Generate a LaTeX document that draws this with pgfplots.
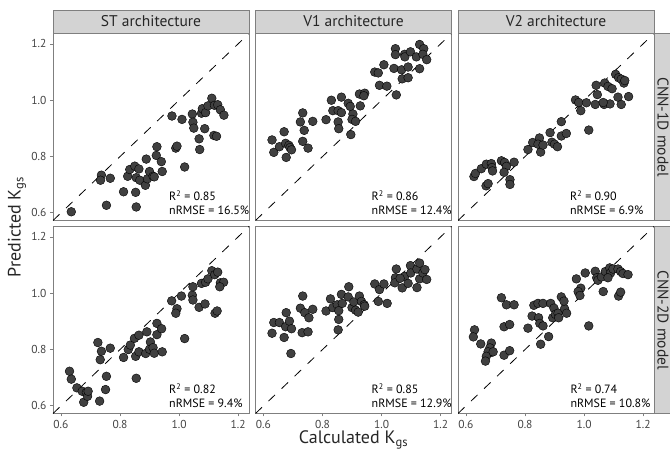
\documentclass[border=0pt]{standalone}
\usepackage{fontspec}
\setmainfont{PT Sans}
\usepackage{pgfplots}
\pgfplotsset{compat=1.18}
\definecolor{ptfill}{HTML}{404040}
\definecolor{frame}{HTML}{7F7F7F}
\definecolor{strip}{HTML}{D3D3D3}
\definecolor{ticktxt}{HTML}{444444}

\pgfplotsset{panel/.style={
  scale only axis, width=196pt, height=187pt, anchor=south west,
  xmin=0.573, xmax=1.237, ymin=0.573, ymax=1.237,
  axis line style={frame, line width=0.8pt},
  tick align=outside, major tick length=3pt, tick style={frame, line width=0.8pt},
  xtick pos=bottom, ytick pos=left,
  xtick={0.6,0.8,1.0,1.2}, ytick={0.6,0.8,1.0,1.2},
  tick label style={font=\fontsize{11.5}{12}\selectfont, text=ticktxt},
  /pgf/number format/fixed, /pgf/number format/fixed zerofill,
  /pgf/number format/precision=1, /pgf/number format/assume math mode=true,
  clip=true,
}}
\pgfplotsset{pts/.style={only marks, mark=*, mark size=4.4pt,
  mark options={fill=ptfill, draw=black, line width=0.4pt}}}
\newcommand{\oneone}{\addplot[black, line width=0.8pt, dash pattern=on 9pt off 9pt] coordinates {(0.573,0.573) (1.237,1.237)};}
\newcommand{\stats}[3]{%
  \node[anchor=west, font=\fontsize{12}{14}\selectfont, inner sep=0pt] at (rel axis cs:#1,0.131) {R\textsuperscript{2} = #2};
  \node[anchor=west, font=\fontsize{12}{14}\selectfont, inner sep=0pt] at (rel axis cs:#1,0.056) {nRMSE = #3};}

\begin{document}
\begin{tikzpicture}[x=1pt, y=1pt]
\useasboundingbox (0,0) rectangle (670,453);

% ---- row 1: CNN-1D model ----
\begin{axis}[panel, at={(53pt,232.5pt)}, xtick=\empty]
\oneone
\addplot[pts] table {
x y
0.635 0.604
0.754 0.627
0.855 0.621
0.812 0.675
0.853 0.673
0.737 0.734
0.734 0.716
0.767 0.723
0.826 0.730
0.833 0.754
0.850 0.766
0.864 0.756
0.855 0.725
0.867 0.716
0.886 0.698
0.893 0.721
0.900 0.747
0.912 0.730
0.916 0.728
0.889 0.791
0.923 0.804
0.940 0.782
0.925 0.835
0.943 0.747
0.989 0.830
0.993 0.837
1.019 0.763
0.976 0.944
1.010 0.932
1.045 0.951
1.047 0.922
1.050 0.901
1.070 0.825
1.068 0.863
1.087 0.899
1.076 0.954
1.079 0.970
1.090 0.956
1.098 0.980
1.111 1.007
1.120 0.982
1.131 0.984
1.140 0.966
1.152 0.947
1.118 0.875
1.127 0.872
};
\stats{0.592}{0.85}{16.5\%}
\end{axis}

\begin{axis}[panel, at={(255.5pt,232.5pt)}, xtick=\empty, ytick=\empty]
\oneone
\addplot[pts] table {
x y
0.629 0.859
0.635 0.815
0.654 0.835
0.670 0.888
0.675 0.847
0.677 0.797
0.686 0.840
0.690 0.832
0.695 0.824
0.733 0.955
0.725 0.923
0.738 0.893
0.767 0.925
0.733 0.854
0.751 0.830
0.812 0.931
0.830 1.000
0.835 0.963
0.853 0.963
0.864 0.956
0.864 1.011
0.887 0.989
0.894 0.978
0.853 0.923
0.855 0.899
0.903 0.951
0.900 0.932
0.912 0.925
0.896 0.878
0.928 0.980
0.925 1.022
0.943 1.025
0.940 1.016
0.977 1.100
0.989 1.097
1.008 1.126
0.993 1.053
1.018 1.050
1.050 1.019
1.042 1.113
1.068 1.108
1.090 1.118
1.070 1.076
1.090 1.080
1.047 1.183
1.047 1.162
1.078 1.163
1.079 1.154
1.098 1.172
1.118 1.154
1.129 1.198
1.143 1.183
1.140 1.163
1.153 1.144
1.129 1.112
};
\stats{0.592}{0.86}{12.4\%}
\end{axis}

\begin{axis}[panel, at={(458pt,232.5pt)}, xtick=\empty, ytick=\empty]
\oneone
\addplot[pts] table {
x y
0.627 0.729
0.632 0.740
0.652 0.757
0.669 0.773
0.686 0.775
0.688 0.761
0.690 0.749
0.668 0.696
0.675 0.704
0.720 0.785
0.731 0.779
0.737 0.765
0.763 0.780
0.729 0.744
0.749 0.718
0.749 0.701
0.810 0.825
0.826 0.850
0.849 0.866
0.844 0.844
0.853 0.816
0.861 0.841
0.885 0.885
0.891 0.851
0.900 0.844
0.910 0.835
0.923 0.873
0.940 0.882
0.923 0.924
1.016 0.894
0.971 1.001
0.982 0.992
0.989 0.963
1.008 0.991
1.038 0.985
1.045 1.020
1.041 1.053
1.068 0.985
1.088 0.987
1.070 1.061
1.081 1.049
1.095 1.041
1.115 1.011
1.126 0.985
1.151 1.013
1.107 1.092
1.117 1.080
1.126 1.075
1.135 1.061
1.138 1.070
1.065 0.992
};
\stats{0.571}{0.90}{6.9\%}
\end{axis}

% ---- row 2: CNN-2D model ----
\begin{axis}[panel, at={(53pt,39.5pt)}]
\oneone
\addplot[pts] table {
x y
0.629 0.723
0.635 0.695
0.654 0.664
0.672 0.652
0.677 0.613
0.686 0.648
0.690 0.634
0.692 0.652
0.731 0.617
0.751 0.658
0.754 0.705
0.725 0.825
0.737 0.794
0.733 0.764
0.767 0.805
0.855 0.698
0.812 0.772
0.828 0.800
0.835 0.816
0.849 0.840
0.864 0.851
0.853 0.776
0.864 0.792
0.887 0.786
0.891 0.863
0.900 0.801
0.903 0.827
0.912 0.807
0.916 0.787
0.925 0.853
0.925 0.893
0.941 0.874
0.943 0.792
1.019 0.839
0.975 0.973
0.993 0.945
0.989 0.929
1.008 0.990
1.045 0.993
1.047 1.023
1.047 0.976
1.068 0.950
1.088 0.962
1.076 1.035
1.090 1.039
1.098 1.051
1.111 1.080
1.121 1.066
1.131 1.075
1.140 1.037
1.151 1.039
1.138 1.023
1.122 0.929
1.129 0.937
};
\stats{0.592}{0.82}{9.4\%}
\end{axis}

\begin{axis}[panel, at={(255.5pt,39.5pt)}, ytick=\empty]
\oneone
\addplot[pts] table {
x y
0.629 0.858
0.635 0.896
0.654 0.896
0.670 0.843
0.675 0.881
0.677 0.931
0.688 0.901
0.695 0.874
0.693 0.786
0.733 0.990
0.725 0.947
0.740 0.931
0.754 0.913
0.767 0.943
0.731 0.860
0.751 0.863
0.812 0.937
0.827 0.980
0.835 0.949
0.850 0.959
0.855 0.938
0.855 0.907
0.853 0.870
0.864 0.996
0.867 0.964
0.889 1.023
0.887 0.987
0.900 0.949
0.906 0.969
0.912 0.940
0.921 0.933
0.925 0.990
0.932 0.971
0.941 0.959
0.943 0.954
0.977 1.033
0.993 1.013
1.008 1.033
0.989 0.971
1.019 0.964
1.050 1.086
1.047 1.055
1.045 1.037
1.070 1.019
1.079 1.060
1.090 1.035
1.098 1.098
1.099 1.072
1.120 1.086
1.129 1.107
1.120 1.020
1.129 1.051
1.140 1.072
1.147 1.084
1.153 1.049
1.063 1.053
};
\stats{0.592}{0.85}{12.9\%}
\end{axis}

\begin{axis}[panel, at={(458pt,39.5pt)}, ytick=\empty]
\oneone
\addplot[pts] table {
x y
0.629 0.870
0.625 0.845
0.650 0.820
0.686 0.823
0.681 0.806
0.686 0.790
0.675 0.792
0.669 0.776
0.666 0.759
0.692 0.792
0.720 0.984
0.737 0.959
0.763 0.959
0.729 0.881
0.748 0.889
0.729 0.780
0.748 0.796
0.810 0.876
0.824 0.919
0.830 0.957
0.844 0.964
0.861 0.964
0.846 0.913
0.850 0.893
0.861 0.884
0.853 0.819
0.880 0.846
0.887 0.964
0.898 0.947
0.894 0.913
0.903 0.925
0.912 0.929
0.914 0.913
0.923 0.987
0.934 0.945
0.941 0.929
0.932 0.972
0.974 1.051
0.989 1.018
0.980 1.006
1.004 1.072
0.986 0.992
1.016 0.884
1.038 1.078
1.043 1.055
1.047 1.046
1.065 1.006
1.059 1.058
1.072 1.077
1.087 1.090
1.090 1.072
1.098 1.086
1.115 1.086
1.124 1.077
1.132 1.070
1.149 1.066
1.117 0.990
1.124 1.004
1.081 1.055
};
\stats{0.573}{0.74}{10.8\%}
\end{axis}

% ---- facet strips ----
\foreach \xl/\lab in {53/ST architecture, 255.5/V1 architecture, 458/V2 architecture} {
  \draw[frame, line width=0.8pt, fill=strip] (\xl,419.5) rectangle ++(196,23.5);
  \node[font=\fontsize{15.5}{17}\selectfont, text=black!85] at (\xl+98,431.5) {\lab};
}
\foreach \yl/\lab in {232.5/CNN-1D model, 39.5/CNN-2D model} {
  \draw[frame, line width=0.8pt, fill=strip] (654,\yl) rectangle ++(24,187);
  \node[rotate=-90, font=\fontsize{15.5}{17}\selectfont, text=black!85] at (663,\yl+93.5) {\lab};
}

% ---- axis titles ----
\node[font=\fontsize{18}{20}\selectfont, text=black!85] at (353.5,13) {Calculated K\textsubscript{gs}};
\node[rotate=90, font=\fontsize{18}{20}\selectfont, text=black!85] at (17,226) {Predicted K\textsubscript{gs}};
\end{tikzpicture}
\end{document}
